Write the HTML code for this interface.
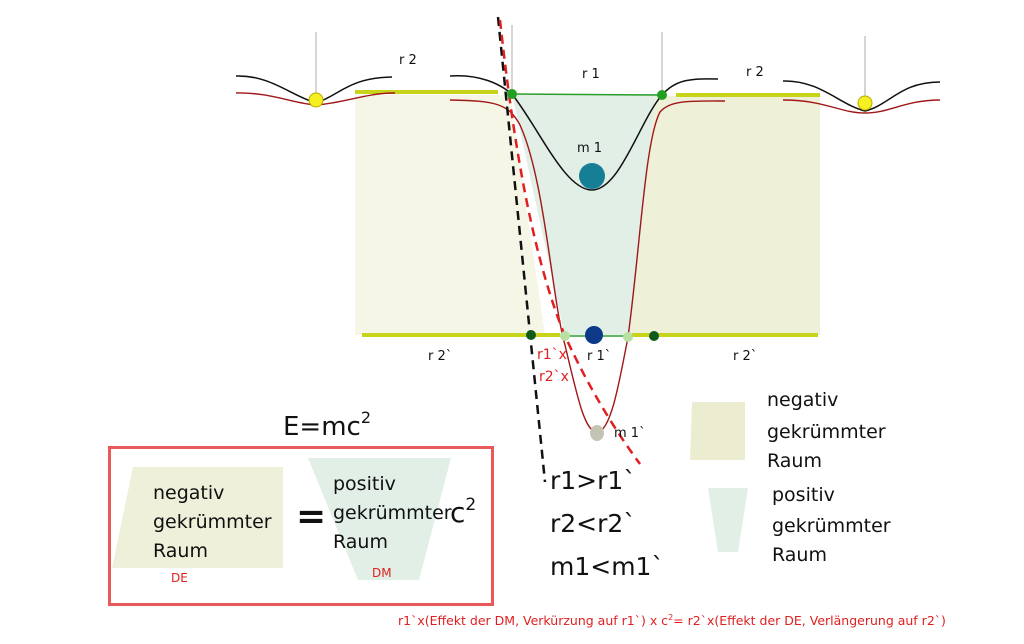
<!DOCTYPE html>
<html><head><meta charset="utf-8"><style>
html,body{margin:0;padding:0;background:#fff;}
svg{display:block;font-family:"DejaVu Sans","Liberation Sans",sans-serif;}
</style></head><body>
<svg width="1024" height="644" viewBox="0 0 1024 644" xmlns="http://www.w3.org/2000/svg">
<rect width="1024" height="644" fill="#fff"/>
<!-- fills -->
<polygon points="355,95 510,95 545,335 355,335" fill="#f5f6e6"/>
<polygon points="512,94 662,94 630,337 565,337" fill="#e1efe6"/>
<polygon points="655,96 820,96 820,335 630,335" fill="#eff0d8"/>
<!-- gray verticals -->
<g stroke="#bbb" stroke-width="1.2">
<line x1="316" y1="32" x2="316" y2="95"/>
<line x1="512" y1="25" x2="512" y2="94"/>
<line x1="662" y1="32" x2="662" y2="94"/>
<line x1="865" y1="36" x2="865" y2="98"/>
</g>
<!-- yellow bars -->
<g stroke="#c8d41a" stroke-width="4">
<line x1="355" y1="92" x2="498" y2="92"/>
<line x1="676" y1="95" x2="820" y2="95"/>
<line x1="362" y1="335" x2="560" y2="335"/>
<line x1="632" y1="335" x2="818" y2="335"/>
</g>
<line x1="565" y1="336" x2="628" y2="336" stroke="#3aa53a" stroke-width="1.5"/>
<line x1="512" y1="94" x2="662" y2="95" stroke="#2a9d2a" stroke-width="1.5"/>
<!-- black curves -->
<g fill="none" stroke="#111" stroke-width="1.5">
<path d="M236,76 C270,75 290,95 316,103 C340,95 348,78 392,77"/>
<path d="M450,76 C480,74 500,84 512,94 C540,130 565,190 592,190 C620,190 640,120 662,95 C675,80 690,78 718,79"/>
<path d="M783,81 C820,80 840,105 865,111 C890,105 900,82 940,82"/>
</g>
<!-- red curves -->
<g fill="none" stroke="#a01818" stroke-width="1.4">
<path d="M236,93 C270,92 295,104 316,105 C345,103 365,93 395,93"/>
<path d="M450,100 C495,101 508,103 520,125 C545,180 552,300 565,345 C578,400 585,432 597,432 C610,432 618,390 628,337 C640,250 645,140 660,112 C670,100 690,101 725,101"/>
<path d="M783,100 C825,100 840,113 865,113 C890,113 905,100 940,100"/>
</g>
<!-- dashed -->
<line x1="498" y1="17" x2="545" y2="482" stroke="#111" stroke-width="2.5" stroke-dasharray="9,6"/>
<path d="M500,20 C512,130 530,250 565,336 C590,390 615,430 640,464" fill="none" stroke="#e02020" stroke-width="2.5" stroke-dasharray="9,6"/>
<!-- dots -->
<circle cx="316" cy="100" r="7" fill="#f6f021" stroke="#b8a800"/>
<circle cx="865" cy="103" r="7" fill="#f6f021" stroke="#b8a800"/>
<circle cx="512" cy="94" r="5" fill="#22a022"/>
<circle cx="662" cy="95" r="5" fill="#22a022"/>
<circle cx="592" cy="176" r="13" fill="#167f96"/>
<circle cx="531" cy="335" r="5" fill="#0f5a1a"/>
<circle cx="654" cy="336" r="5" fill="#0f5a1a"/>
<circle cx="565" cy="336" r="5" fill="#b8e0a0"/>
<circle cx="628" cy="337" r="5" fill="#b8e0a0"/>
<circle cx="594" cy="335" r="9" fill="#0c3a88"/>
<ellipse cx="597" cy="433" rx="7" ry="8" fill="#c4c4b4"/>
<!-- labels -->
<g font-size="13" fill="#111">
<text x="399" y="64">r 2</text>
<text x="582" y="78">r 1</text>
<text x="746" y="76">r 2</text>
<text x="577" y="152">m 1</text>
<text x="428" y="360">r 2`</text>
<text x="587" y="360">r 1`</text>
<text x="733" y="360">r 2`</text>
<text x="614" y="437">m 1`</text>
</g>
<text x="537" y="359" font-size="14" fill="#e02020">r1`x</text>
<text x="539" y="381" font-size="14" fill="#e02020">r2`x</text>
<text x="283" y="435" font-size="26" fill="#111">E=mc<tspan font-size="16" dy="-12">2</tspan></text>
<!-- box -->
<rect x="109.5" y="447.5" width="383" height="157" fill="none" stroke="#e85a5a" stroke-width="3"/>
<polygon points="133,467 283,467 283,568 112,568" fill="#eef0da"/>
<polygon points="308,458 451,458 419,580 358,580" fill="#e1efe6"/>
<g font-size="19" fill="#111">
<text x="153" y="499">negativ</text>
<text x="153" y="528">gekrümmter</text>
<text x="153" y="557">Raum</text>
<text x="333" y="490">positiv</text>
<text x="333" y="519">gekrümmter</text>
<text x="333" y="548">Raum</text>
</g>
<text x="296" y="528" font-size="36" font-weight="bold" fill="#111">=</text>
<text x="450" y="522" font-size="28" fill="#111">c<tspan font-size="17" dy="-12">2</tspan></text>
<text x="171" y="582" font-size="12" fill="#e02020">DE</text>
<text x="372" y="577" font-size="12" fill="#e02020">DM</text>
<g font-size="25" fill="#111">
<text x="550" y="489">r1&gt;r1`</text>
<text x="550" y="532">r2&lt;r2`</text>
<text x="550" y="575">m1&lt;m1`</text>
</g>
<!-- legend -->
<polygon points="692,402 745,402 745,460 690,460" fill="#ebecd0"/>
<polygon points="708,488 748,488 738,552 718,552" fill="#e1efe6"/>
<g font-size="19" fill="#111">
<text x="767" y="406">negativ</text>
<text x="767" y="438">gekrümmter</text>
<text x="767" y="467">Raum</text>
<text x="772" y="501">positiv</text>
<text x="772" y="532">gekrümmter</text>
<text x="772" y="561">Raum</text>
</g>
<text x="398" y="625" font-size="12.5" fill="#e02020">r1`x(Effekt der DM, Verkürzung auf r1`) x c<tspan font-size="8" dy="-5">2</tspan><tspan dy="5">= r2`x(Effekt der DE, Verlängerung auf r2`)</tspan></text>
</svg>
</body></html>
